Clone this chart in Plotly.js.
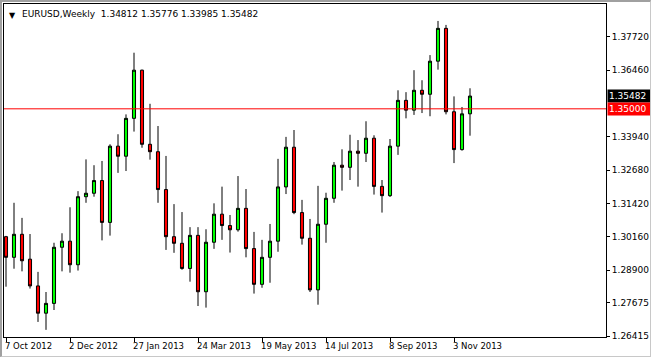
<!DOCTYPE html>
<html>
<head>
<meta charset="utf-8">
<script src="https://cdn.plot.ly/plotly-3.0.1.min.js"></script>
<style>
  html, body { margin: 0; padding: 0; background: #ffffff; }
  #chart { width: 651px; height: 357px; position: relative; }
  #frame { position: absolute; left: 0; top: 0; width: 651px; height: 357px; box-sizing: border-box;
           border-top: 2px solid #a0a0a0; border-left: 2px solid #a0a0a0;
           border-right: 1px solid #c8c8c8; border-bottom: 1px solid #c8c8c8; pointer-events: none; }
</style>
</head>
<body>
<div id="chart"></div>
<div id="frame"></div>
<script>
// Weekly EURUSD candles
const dates = [
  "2012-10-07","2012-10-14","2012-10-21","2012-10-28","2012-11-04","2012-11-11","2012-11-18","2012-11-25",
  "2012-12-02","2012-12-09","2012-12-16","2012-12-23","2012-12-30","2013-01-06","2013-01-13","2013-01-20",
  "2013-01-27","2013-02-03","2013-02-10","2013-02-17","2013-02-24","2013-03-03","2013-03-10","2013-03-17",
  "2013-03-24","2013-03-31","2013-04-07","2013-04-14","2013-04-21","2013-04-28","2013-05-05","2013-05-12",
  "2013-05-19","2013-05-26","2013-06-02","2013-06-09","2013-06-16","2013-06-23","2013-06-30","2013-07-07",
  "2013-07-14","2013-07-21","2013-07-28","2013-08-04","2013-08-11","2013-08-18","2013-08-25","2013-09-01",
  "2013-09-08","2013-09-15","2013-09-22","2013-09-29","2013-10-06","2013-10-13","2013-10-20","2013-10-27",
  "2013-11-03","2013-11-10","2013-11-17"
];
const opens = [
  1.3017,1.2939,1.3026,1.2932,1.2831,1.2728,1.2765,1.2977,
  1.3000,1.2911,1.3168,1.3181,1.3229,1.3071,1.3359,1.3321,
  1.3464,1.3646,1.3366,1.3338,1.3195,1.3017,1.2992,1.2897,
  1.3022,1.2809,1.2996,1.3102,1.3059,1.3043,1.3124,1.2972,
  1.2837,1.2939,1.3000,1.3205,1.3355,1.3108,1.3011,1.2816,
  1.3064,1.3162,1.3287,1.3279,1.3340,1.3332,1.3389,1.3207,
  1.3172,1.3359,1.3532,1.3495,1.3570,1.3555,1.3680,1.3804,
  1.3489,1.3346,1.34812
];
const highs = [
  1.3020,1.3145,1.3088,1.3027,1.2884,1.2808,1.2994,1.3030,
  1.3128,1.3189,1.3309,1.3287,1.3303,1.3366,1.3404,1.3479,
  1.3712,1.3648,1.3519,1.3435,1.3322,1.3140,1.3110,1.3053,
  1.3053,1.3045,1.3143,1.3206,1.3099,1.3246,1.3197,1.3035,
  1.3005,1.3065,1.3311,1.3394,1.3420,1.3156,1.3084,1.3209,
  1.3183,1.3299,1.3347,1.3402,1.3382,1.3453,1.3400,1.3231,
  1.3386,1.3570,1.3563,1.3646,1.3608,1.3703,1.3832,1.3817,
  1.3547,1.3507,1.35776
];
const lows = [
  1.2828,1.2896,1.2886,1.2821,1.2695,1.2665,1.2740,1.2886,
  1.2881,1.2889,1.3145,1.3168,1.3003,1.3021,1.3258,1.3265,
  1.3414,1.3353,1.3308,1.3145,1.2967,1.2956,1.2892,1.2847,
  1.2755,1.2749,1.2971,1.3005,1.2957,1.3036,1.2939,1.2802,
  1.2824,1.2843,1.2960,1.3178,1.3102,1.2987,1.2808,1.2760,
  1.2994,1.3145,1.3191,1.3231,1.3206,1.3299,1.3176,1.3108,
  1.3167,1.3326,1.3464,1.3477,1.3484,1.3472,1.3648,1.3479,
  1.3295,1.3342,1.33985
];
const closes = [
  1.2939,1.3026,1.2926,1.2831,1.2728,1.2765,1.2977,1.3000,
  1.2911,1.3168,1.3181,1.3229,1.3071,1.3359,1.3321,1.3464,
  1.3646,1.3366,1.3338,1.3195,1.3017,1.2992,1.2897,1.3022,
  1.2809,1.2996,1.3102,1.3059,1.3043,1.3124,1.2972,1.2837,
  1.2939,1.3000,1.3205,1.3355,1.3108,1.3011,1.2816,1.3064,
  1.3162,1.3287,1.3279,1.3340,1.3332,1.3389,1.3207,1.3172,
  1.3359,1.3532,1.3495,1.3570,1.3555,1.3680,1.3804,1.3489,
  1.3346,1.3481,1.35482
];

// Axis ticks and labels
const xTickDates = ["2012-10-07","2012-12-02","2013-01-27","2013-03-24","2013-05-19","2013-07-14","2013-09-08","2013-11-03"];
const xTickText  = ["7 Oct 2012","2 Dec 2012","27 Jan 2013","24 Mar 2013","19 May 2013","14 Jul 2013","8 Sep 2013","3 Nov 2013"];
const yTickVals  = [1.37720,1.36460,1.33940,1.32680,1.31420,1.30160,1.28900,1.27675,1.26415];
const yTickText  = ["1.37720","1.36460","1.33940","1.32680","1.31420","1.30160","1.28900","1.27675","1.26415"];
const xRange = ["2012-10-05 06:00","2014-03-16"];
const yRange = [1.2638, 1.3896];

const symbol = "EURUSD,Weekly";
const levelLine = 1.35000;
const lastPrice = 1.35482;

const FONT = "DejaVu Sans, sans-serif";

const trace = {
  type: "candlestick",
  x: dates, open: opens, high: highs, low: lows, close: closes,
  increasing: { fillcolor: "#00ff00", line: { color: "#000000", width: 1 } },
  decreasing: { fillcolor: "#ff0000", line: { color: "#000000", width: 1 } },
  whiskerwidth: 0,
  hoverinfo: "skip",
  showlegend: false
};

const n = closes.length - 1;
const header = symbol + "\u00a0\u00a0" + [opens[n], highs[n], lows[n], closes[n]].map(v => v.toFixed(5)).join("\u00a0");

const annotations = [
  { xref: "paper", yref: "paper", x: 0, y: 1, xanchor: "left", yanchor: "top",
    xshift: 3, yshift: -5, text: "▼", showarrow: false,
    font: { family: FONT, size: 8, color: "#000000" } },
  { xref: "paper", yref: "paper", x: 0, y: 1, xanchor: "left", yanchor: "top",
    xshift: 16, yshift: -3, text: header, showarrow: false,
    font: { family: FONT, size: 9, color: "#000000" } },
  { xref: "paper", yref: "y", x: 1, y: lastPrice, xanchor: "left", yanchor: "middle",
    xshift: 1, text: lastPrice.toFixed(5), showarrow: false, bgcolor: "#000000",
    width: 42, align: "left", borderpad: 1,
    font: { family: FONT, size: 9, color: "#ffffff" } },
  { xref: "paper", yref: "y", x: 1, y: levelLine, xanchor: "left", yanchor: "middle",
    xshift: 1, text: levelLine.toFixed(5), showarrow: false, bgcolor: "#ff0000",
    width: 42, align: "left", borderpad: 1,
    font: { family: FONT, size: 9, color: "#ffffff" } }
];
xTickDates.forEach((d, i) => {
  annotations.push({
    xref: "x", yref: "paper", x: d, y: 0, xanchor: "left", yanchor: "top",
    xshift: -3, yshift: -2, text: xTickText[i], showarrow: false,
    font: { family: FONT, size: 8.5, color: "#000000" }
  });
});

const layout = {
  width: 651, height: 357,
  margin: { l: 4, r: 45, t: 4, b: 20, pad: 0 },
  paper_bgcolor: "#ffffff", plot_bgcolor: "#ffffff",
  boxgap: 0.45,
  showlegend: false,
  font: { family: FONT, size: 9, color: "#000000" },
  xaxis: {
    type: "date", range: xRange, rangeslider: { visible: false },
    showgrid: false, zeroline: false,
    showline: true, mirror: true, linecolor: "#000000", linewidth: 1,
    tickmode: "array", tickvals: xTickDates, showticklabels: false,
    ticks: "outside", ticklen: 4, tickcolor: "#000000", tickwidth: 1,
    fixedrange: true
  },
  yaxis: {
    side: "right", range: yRange,
    showgrid: false, zeroline: false,
    showline: true, mirror: true, linecolor: "#000000", linewidth: 1,
    tickmode: "array", tickvals: yTickVals, ticktext: yTickText,
    ticks: "outside", ticklen: 3, tickcolor: "#000000", tickwidth: 1,
    tickfont: { family: FONT, size: 9, color: "#000000" },
    fixedrange: true
  },
  shapes: [
    { type: "line", xref: "paper", x0: 0, x1: 1, yref: "y", y0: levelLine, y1: levelLine,
      line: { color: "#ff0000", width: 1 } }
  ],
  annotations: annotations
};

Plotly.newPlot("chart", [trace], layout, { staticPlot: true, displayModeBar: false });
</script>
</body>
</html>
